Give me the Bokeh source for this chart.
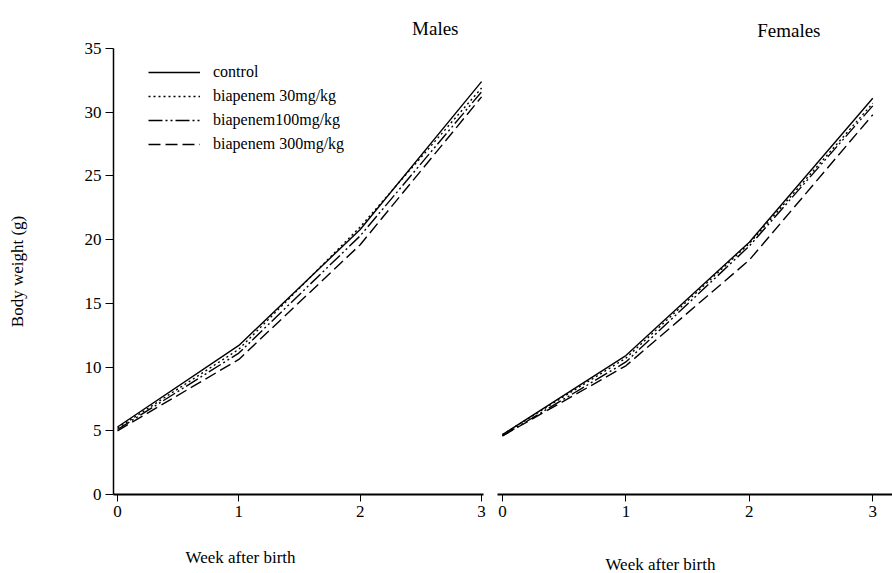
from bokeh.plotting import figure
from bokeh.layouts import row, column
from bokeh.models import Range1d, Legend, LegendItem, FixedTicker, Title
from bokeh.core.properties import value
from bokeh.embed import file_html
from bokeh.resources import INLINE

weeks = [0, 1, 2, 3]
series_names = ["control", "biapenem 30mg/kg", "biapenem100mg/kg", "biapenem 300mg/kg"]
males_control = [5.3, 11.7, 20.8, 32.4]
males_30 = [5.2, 11.4, 21.0, 31.9]
males_100 = [5.1, 11.1, 20.3, 31.6]
males_300 = [5.0, 10.6, 19.6, 31.2]
females_control = [4.7, 10.9, 19.8, 31.1]
females_30 = [4.7, 10.7, 19.7, 30.7]
females_100 = [4.6, 10.4, 19.5, 30.5]
females_300 = [4.6, 10.1, 18.4, 29.8]
y_ticks = [0, 5, 10, 15, 20, 25, 30, 35]
x_ticks = [0, 1, 2, 3]
x_title = "Week after birth"

FONT = "Liberation Serif"
dashes = ["solid", "2 3", "14 3 2 3 2 3", "12 5"]

yr = Range1d(0, 35)
xr1 = Range1d(-0.033, 3.016)
xr2 = Range1d(-0.04, 3.16)

def make(width, left, right, xr):
    p = figure(width=width, height=541, x_range=xr, y_range=yr,
               output_backend="svg", toolbar_location=None,
               min_border_left=left, min_border_right=right,
               min_border_top=48, min_border_bottom=47)
    p.outline_line_color = None
    p.grid.visible = False
    for ax, tout in ((p.xaxis, 7), (p.yaxis, 8)):
        ax.major_tick_in = 0
        ax.major_tick_out = tout
        ax.minor_tick_out = 0
        ax.minor_tick_in = 0
        ax.major_label_text_font = FONT
        ax.major_label_text_font_size = "17px"
        ax.major_label_text_color = "black"
        ax.major_label_standoff = 4
        ax.axis_line_color = "black"
        ax.major_tick_line_color = "black"
    p.xaxis.ticker = FixedTicker(ticks=x_ticks)
    p.yaxis.ticker = FixedTicker(ticks=y_ticks)
    p.xaxis.axis_line_width = 2
    p.yaxis.axis_line_width = 1.5
    return p

p1 = make(497, 113, 14, xr1)
p2 = make(395, 0, 0, xr2)
p2.yaxis.visible = False

p1.yaxis.axis_label = "Body weight (g)"
p1.yaxis.axis_label_text_font = FONT
p1.yaxis.axis_label_text_font_style = "normal"
p1.yaxis.axis_label_text_font_size = "17px"
p1.yaxis.axis_label_text_color = "black"
p1.yaxis.axis_label_standoff = 55

male_data = [males_control, males_30, males_100, males_300]
female_data = [females_control, females_30, females_100, females_300]

items = []
for name, d, ys in zip(series_names, dashes, male_data):
    r = p1.line(weeks, ys, line_color="black", line_width=1.4, line_dash=d)
    items.append(LegendItem(label=name, renderers=[r]))
for d, ys in zip(dashes, female_data):
    p2.line(weeks, ys, line_color="black", line_width=1.4, line_dash=d)

leg = Legend(items=items, location=(35, 340), glyph_width=52, glyph_height=20,
             label_height=20, spacing=4, padding=0, margin=0, label_standoff=13,
             label_text_font=FONT, label_text_font_size="16px",
             label_text_color="black",
             border_line_color=None, background_fill_alpha=0)
p1.add_layout(leg, "center")

def title(p, text, offset, standoff):
    t = Title(text=text, align="right", offset=offset, standoff=standoff,
              text_font=FONT, text_font_size="19px", text_font_style="normal",
              text_color="black")
    p.add_layout(t, "above")

title(p1, "Males", 25, 20)
title(p2, "Females", 72, 16)

# bottom strip carrying the x-axis titles
def strip(width, left, right, xr, xpos, ypos):
    q = figure(width=width, height=32, x_range=xr, y_range=Range1d(0, 1),
               output_backend="svg", toolbar_location=None,
               x_axis_location=None, y_axis_location=None,
               min_border_left=left, min_border_right=right,
               min_border_top=0, min_border_bottom=0)
    q.outline_line_color = None
    q.grid.visible = False
    q.text(x=[xpos], y=[ypos], text=[x_title], text_font=value(FONT),
           text_font_size="17px", text_align="center", text_baseline="middle",
           text_color="black")
    return q

q1 = strip(497, 113, 14, xr1, 1.014, 0.5)
q2 = strip(395, 0, 0, xr2, 1.28, 0.27)

layout = column(row(p1, p2), row(q1, q2))
open("out.html", "w").write(file_html(layout, INLINE))
